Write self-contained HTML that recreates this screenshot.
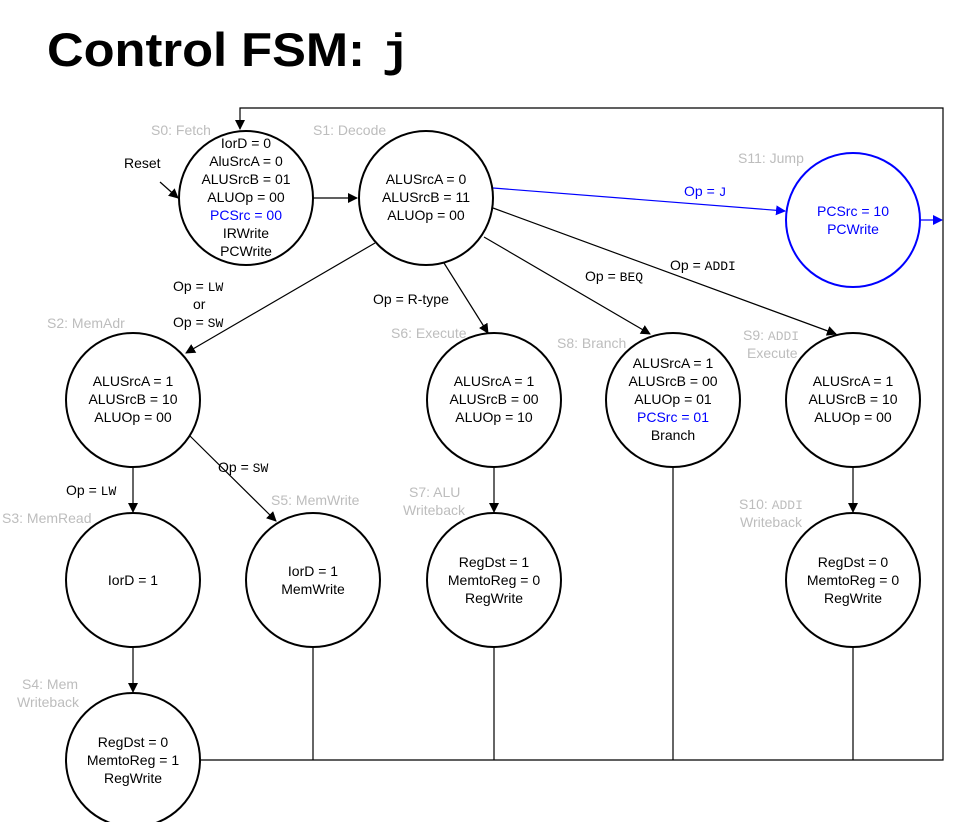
<!DOCTYPE html>
<html><head><meta charset="utf-8"><style>
body{margin:0;background:#fff;width:975px;height:822px;overflow:hidden}
svg{display:block}
text{font-family:"Liberation Sans",sans-serif;font-size:14px}
.c{text-anchor:middle}
.g{fill:#bdbdbd}
.m{font-family:"Liberation Mono",monospace;font-size:13px}
</style></head><body>
<svg width="975" height="822" viewBox="0 0 975 822">
<defs>
<marker id="a" markerWidth="10" markerHeight="10" refX="9" refY="5" orient="auto" markerUnits="userSpaceOnUse"><path d="M0,0 L10,5 L0,10 Z" fill="#000"/></marker>
<marker id="b" markerWidth="10" markerHeight="10" refX="9" refY="5" orient="auto" markerUnits="userSpaceOnUse"><path d="M0,0 L10,5 L0,10 Z" fill="#00f"/></marker>
</defs>
<text x="47" y="66" textLength="318" lengthAdjust="spacingAndGlyphs" style="font-size:47px;font-weight:bold">Control FSM:</text>
<text x="382" y="66" style="font-family:'Liberation Mono',monospace;font-size:46px;font-weight:bold">j</text>

<g fill="none" stroke="#000" stroke-width="1.2">
<polyline points="200,760 943,760 943,108 240,108 240,129" marker-end="url(#a)"/>
<line x1="313" y1="647" x2="313" y2="760"/>
<line x1="494" y1="647" x2="494" y2="760"/>
<line x1="673" y1="467" x2="673" y2="760"/>
<line x1="853" y1="647" x2="853" y2="760"/>
<line x1="313" y1="198" x2="357" y2="198" marker-end="url(#a)"/>
<line x1="160" y1="182" x2="178" y2="198" marker-end="url(#a)"/>
<line x1="375" y1="243" x2="186" y2="353" marker-end="url(#a)"/>
<line x1="444" y1="263" x2="488" y2="333" marker-end="url(#a)"/>
<line x1="484" y1="237" x2="650" y2="334" marker-end="url(#a)"/>
<line x1="493" y1="208" x2="836" y2="334" marker-end="url(#a)"/>
<line x1="133" y1="467" x2="133" y2="512" marker-end="url(#a)"/>
<line x1="190" y1="436" x2="276" y2="521" marker-end="url(#a)"/>
<line x1="494" y1="467" x2="494" y2="512" marker-end="url(#a)"/>
<line x1="853" y1="467" x2="853" y2="512" marker-end="url(#a)"/>
<line x1="133" y1="647" x2="133" y2="692" marker-end="url(#a)"/>
</g>
<g fill="none" stroke="#00f" stroke-width="1.2">
<line x1="493" y1="188" x2="785" y2="211" marker-end="url(#b)"/>
<line x1="921" y1="220" x2="942" y2="220" marker-end="url(#b)"/>
</g>
<g fill="#fff" stroke="#000" stroke-width="2">
<circle cx="246" cy="198" r="67"/>
<circle cx="426" cy="198" r="67"/>
<circle cx="133" cy="400" r="67"/>
<circle cx="494" cy="400" r="67"/>
<circle cx="673" cy="400" r="67"/>
<circle cx="853" cy="400" r="67"/>
<circle cx="133" cy="580" r="67"/>
<circle cx="313" cy="580" r="67"/>
<circle cx="494" cy="580" r="67"/>
<circle cx="853" cy="580" r="67"/>
<circle cx="133" cy="760" r="67"/>
<circle cx="853" cy="220" r="67" stroke="#00f"/>
</g>

<g class="c">
<text x="246" y="148">IorD = 0</text>
<text x="246" y="166">AluSrcA = 0</text>
<text x="246" y="184">ALUSrcB = 01</text>
<text x="246" y="202">ALUOp = 00</text>
<text x="246" y="220" fill="#00f">PCSrc = 00</text>
<text x="246" y="238">IRWrite</text>
<text x="246" y="256">PCWrite</text>
<text x="426" y="184">ALUSrcA = 0</text>
<text x="426" y="202">ALUSrcB = 11</text>
<text x="426" y="220">ALUOp = 00</text>
<text x="853" y="216" fill="#00f">PCSrc = 10</text>
<text x="853" y="234" fill="#00f">PCWrite</text>
<text x="133" y="386">ALUSrcA = 1</text>
<text x="133" y="404">ALUSrcB = 10</text>
<text x="133" y="422">ALUOp = 00</text>
<text x="494" y="386">ALUSrcA = 1</text>
<text x="494" y="404">ALUSrcB = 00</text>
<text x="494" y="422">ALUOp = 10</text>
<text x="673" y="368">ALUSrcA = 1</text>
<text x="673" y="386">ALUSrcB = 00</text>
<text x="673" y="404">ALUOp = 01</text>
<text x="673" y="422" fill="#00f">PCSrc = 01</text>
<text x="673" y="440">Branch</text>
<text x="853" y="386">ALUSrcA = 1</text>
<text x="853" y="404">ALUSrcB = 10</text>
<text x="853" y="422">ALUOp = 00</text>
<text x="133" y="585">IorD = 1</text>
<text x="313" y="576">IorD = 1</text>
<text x="313" y="594">MemWrite</text>
<text x="494" y="567">RegDst = 1</text>
<text x="494" y="585">MemtoReg = 0</text>
<text x="494" y="603">RegWrite</text>
<text x="853" y="567">RegDst = 0</text>
<text x="853" y="585">MemtoReg = 0</text>
<text x="853" y="603">RegWrite</text>
<text x="133" y="747">RegDst = 0</text>
<text x="133" y="765">MemtoReg = 1</text>
<text x="133" y="783">RegWrite</text>
</g>

<text x="124" y="168">Reset</text>
<g class="g">
<text x="151" y="135">S0: Fetch</text>
<text x="313" y="135">S1: Decode</text>
<text x="738" y="163">S11: Jump</text>
<text x="47" y="328">S2: MemAdr</text>
<text x="391" y="338">S6: Execute</text>
<text x="557" y="348">S8: Branch</text>
<text x="743" y="340">S9: <tspan class="m">ADDI</tspan></text>
<text x="747" y="358">Execute</text>
<text x="2" y="523">S3: MemRead</text>
<text x="271" y="505">S5: MemWrite</text>
<text x="409" y="497">S7: ALU</text>
<text x="403" y="515">Writeback</text>
<text x="739" y="509">S10: <tspan class="m">ADDI</tspan></text>
<text x="740" y="527">Writeback</text>
<text x="22" y="689">S4: Mem</text>
<text x="17" y="707">Writeback</text>
</g>
<text x="173" y="291">Op = <tspan class="m">LW</tspan></text>
<text x="193" y="309">or</text>
<text x="173" y="327">Op = <tspan class="m">SW</tspan></text>
<text x="373" y="304">Op = R-type</text>
<text x="585" y="281">Op = <tspan class="m">BEQ</tspan></text>
<text x="670" y="270">Op = <tspan class="m">ADDI</tspan></text>
<text x="684" y="196" fill="#00f">Op = <tspan class="m" fill="#00f">J</tspan></text>
<text x="66" y="495">Op = <tspan class="m">LW</tspan></text>
<text x="218" y="472">Op = <tspan class="m">SW</tspan></text>
</svg>
</body></html>
